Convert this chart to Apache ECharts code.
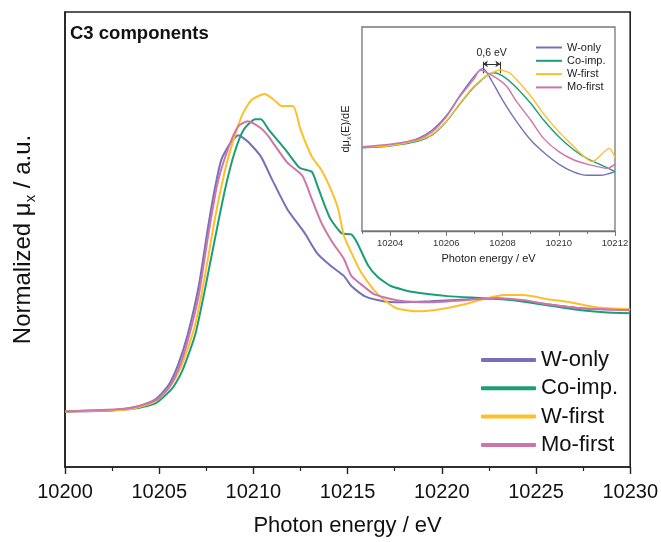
<!DOCTYPE html>
<html>
<head>
<meta charset="utf-8">
<script src="https://cdn.jsdelivr.net/npm/echarts@6/dist/echarts.min.js"></script>
<style>html,body{margin:0;padding:0;background:#fff}#c{width:661px;height:542px}</style>
</head>
<body>
<div id="c"></div>
<script>
// ---- Main panel data (normalized mu_x vs photon energy, eV) ----
const seriesNames = ['W-only', 'Co-imp.', 'W-first', 'Mo-first'];
const seriesColors = ['#7570b8', '#1b9e77', '#fdbf2a', '#cf74ab'];

const wOnlyE  = [10200,10202.5,10203.9,10204.8,10205.5,10206.0,10206.5,10207.1,10207.6,10207.95,10208.3,10208.8,10209.2,10209.7,10210.4,10211.0,10211.8,10212.7,10213.4,10214.1,10214.8,10215.2,10215.9,10216.9,10217.8,10219.4,10221.5,10222.9,10224.0,10225.6,10227.4,10229.1,10230];
const wOnlyMu = [0.00,0.01,0.05,0.12,0.26,0.46,0.75,1.24,1.83,2.20,2.49,2.66,2.73,2.67,2.52,2.29,2.00,1.77,1.56,1.44,1.34,1.24,1.14,1.09,1.08,1.09,1.11,1.12,1.10,1.06,1.02,1.01,1.01];

const coImpE  = [10200,10203.4,10204.8,10205.7,10206.2,10206.9,10207.4,10207.95,10208.5,10209.0,10209.5,10210.1,10210.4,10210.8,10211.7,10212.45,10213.1,10213.4,10213.8,10214.1,10214.7,10215.2,10215.5,10216.1,10216.6,10217.3,10218.5,10220.3,10222.1,10223.8,10225.6,10227.4,10228.6,10230];
const coImpMu = [0.00,0.02,0.08,0.23,0.39,0.75,1.18,1.70,2.20,2.56,2.79,2.89,2.89,2.79,2.59,2.41,2.37,2.23,2.03,1.90,1.76,1.75,1.67,1.44,1.33,1.24,1.18,1.14,1.12,1.10,1.05,1.00,0.98,0.97];

const wFirstE  = [10200,10203.4,10204.8,10205.7,10206.2,10206.9,10207.4,10207.95,10208.5,10209.0,10209.45,10209.9,10210.6,10211.1,10211.5,10212.1,10212.5,10213.1,10213.6,10214.1,10214.5,10214.8,10215.2,10215.7,10216.4,10216.9,10217.6,10218.7,10219.9,10221.2,10222.2,10223.3,10224.35,10225.6,10226.8,10228.2,10230];
const wFirstMu = [0.00,0.02,0.10,0.28,0.46,0.85,1.31,1.90,2.39,2.72,2.95,3.08,3.14,3.08,3.02,3.02,2.79,2.52,2.39,2.20,2.00,1.74,1.57,1.38,1.20,1.11,1.02,0.99,1.01,1.06,1.11,1.15,1.15,1.11,1.08,1.03,1.01];

const moFirstE  = [10200,10203.4,10204.8,10205.5,10206.0,10206.5,10207.1,10207.6,10208.1,10208.7,10209.2,10209.7,10210.4,10210.8,10211.1,10211.8,10212.6,10213.1,10213.6,10214.2,10214.8,10215.2,10215.9,10216.4,10217.6,10219.4,10221.2,10222.9,10224.4,10225.6,10227.4,10230];
const moFirstMu = [0.00,0.03,0.11,0.23,0.41,0.69,1.15,1.74,2.26,2.62,2.82,2.87,2.80,2.72,2.64,2.46,2.33,2.10,1.87,1.67,1.51,1.34,1.23,1.16,1.10,1.08,1.10,1.12,1.10,1.06,1.02,1.00];

// ---- Inset data (first derivative, arbitrary units) ----
const wOnlyDE = [10203,10203.5,10204,10204.5,10205,10205.5,10206,10206.5,10207,10207.3,10207.6,10208,10208.5,10209,10209.5,10210,10210.5,10211,10211.5,10212];
const wOnlyD  = [0.410,0.413,0.422,0.433,0.454,0.495,0.565,0.667,0.760,0.797,0.740,0.642,0.536,0.446,0.381,0.328,0.291,0.273,0.273,0.291];

const coImpDE = [10203,10204,10205,10205.5,10206,10206.5,10207,10207.5,10207.7,10208,10208.4,10209,10209.46,10210,10210.54,10211,10211.5,10212];
const coImpD  = [0.408,0.417,0.441,0.471,0.536,0.626,0.708,0.768,0.776,0.760,0.716,0.626,0.544,0.462,0.397,0.356,0.324,0.291];

const wFirstDE = [10203,10204,10205,10205.5,10206,10206.5,10207,10207.5,10207.92,10208.27,10209,10209.46,10210,10210.36,10210.77,10211.19,10211.79,10212];
const wFirstD  = [0.413,0.418,0.446,0.475,0.539,0.629,0.712,0.765,0.789,0.773,0.662,0.574,0.487,0.438,0.381,0.340,0.405,0.361];

const moFirstDE = [10203,10204,10205,10205.5,10206,10206.5,10207,10207.2,10207.8,10208.15,10208.5,10209,10209.46,10210,10210.54,10211,10211.5,10211.73,10212];
const moFirstD  = [0.413,0.425,0.451,0.487,0.560,0.662,0.748,0.789,0.748,0.708,0.634,0.544,0.454,0.389,0.348,0.328,0.312,0.307,0.328];

// ---- Ticks / annotation ----
const insetMajorTicks = [10204, 10206, 10208, 10210, 10212];
const insetMinorTicks = [10203, 10205, 10207, 10209, 10211];
const shiftX = [10207.3, 10207.92];     // peak positions bracketed
const shiftBarY = [0.773, 0.830];
const shiftArrowY = 0.819;
const shiftLabelY = 0.872;
const shiftLabel = '0,6 eV';

const zip = (a, b) => a.map((v, i) => [v, b[i]]);
const mainData = [zip(wOnlyE, wOnlyMu), zip(coImpE, coImpMu), zip(wFirstE, wFirstMu), zip(moFirstE, moFirstMu)];
const insetData = [zip(wOnlyDE, wOnlyD), zip(coImpDE, coImpD), zip(wFirstDE, wFirstD), zip(moFirstDE, moFirstD)];

const FONT = '"Liberation Sans", Arial, sans-serif';
const plain = v => String(v);
const chart = echarts.init(document.getElementById('c'), null, {renderer: 'canvas'});

const series = [];
seriesNames.forEach((n, i) => {
  series.push({
    name: n, type: 'line', xAxisIndex: 0, yAxisIndex: 0,
    data: mainData[i], showSymbol: false, smooth: 0.2,
    lineStyle: {color: seriesColors[i], width: 2}, itemStyle: {color: seriesColors[i]},
    z: 2, animation: false
  });
});
seriesNames.forEach((n, i) => {
  const s = {
    name: n, type: 'line', xAxisIndex: 1, yAxisIndex: 1,
    data: insetData[i], showSymbol: false, smooth: 0.25,
    lineStyle: {color: seriesColors[i], width: 1.4}, itemStyle: {color: seriesColors[i]},
    z: 10, animation: false
  };
  if (i === 0) {
    s.markLine = {
      silent: true, animation: false,
      symbol: ['none', 'none'],
      lineStyle: {color: '#333', width: 1, type: 'solid'},
      label: {show: false},
      data: [
        [{coord: [shiftX[0], shiftBarY[0]]}, {coord: [shiftX[0], shiftBarY[1]]}],
        [{coord: [shiftX[1], shiftBarY[0]]}, {coord: [shiftX[1], shiftBarY[1]]}],
        [{coord: [shiftX[0], shiftArrowY], symbol: 'arrow', symbolSize: [5, 5]},
         {coord: [shiftX[1], shiftArrowY], symbol: 'arrow', symbolSize: [5, 5]}]
      ]
    };
    s.markPoint = {
      silent: true, animation: false, symbol: 'circle', symbolSize: 0,
      label: {show: true, formatter: shiftLabel, fontSize: 10.5, color: '#222', fontFamily: FONT, position: 'inside'},
      data: [{coord: [(shiftX[0] + shiftX[1]) / 2, shiftLabelY]}]
    };
  }
  series.push(s);
});

const option = {
  animation: false,
  backgroundColor: '#fff',
  title: {
    text: 'C3 components', left: 70, top: 24, padding: 0,
    textStyle: {fontFamily: FONT, fontSize: 18.5, fontWeight: 'bold', color: '#111'}
  },
  legend: [
    {
      data: seriesNames, orient: 'vertical', left: 476, top: 344,
      icon: 'roundRect', itemWidth: 55, itemHeight: 4, itemGap: 6.3,
      textStyle: {fontFamily: FONT, fontSize: 22, lineHeight: 22, color: '#111'},
      itemStyle: {borderWidth: 0}, selectedMode: false
    },
    {
      data: seriesNames, orient: 'vertical', left: 531, top: 37,
      icon: 'rect', itemWidth: 26, itemHeight: 2, itemGap: 2.3,
      textStyle: {fontFamily: FONT, fontSize: 11, lineHeight: 11, color: '#222'},
      itemStyle: {borderWidth: 0}, selectedMode: false, z: 20
    }
  ],
  grid: [
    {left: 63, right: 30, top: 12, bottom: 73, show: true, borderColor: '#222', borderWidth: 1.6, backgroundColor: 'transparent'},
    {left: 362, right: 46, top: 27, bottom: 311, show: true, borderColor: '#777', borderWidth: 1.3, backgroundColor: '#fff', z: 5}
  ],
  xAxis: [
    {
      type: 'value', gridIndex: 0, min: 10200, max: 10230, interval: 5, position: 'bottom',
      name: 'Photon energy / eV', nameLocation: 'middle', nameGap: 48,
      nameTextStyle: {fontFamily: FONT, fontSize: 22, color: '#111'},
      axisLine: {show: true, onZero: false, lineStyle: {color: '#222', width: 1.6}},
      axisTick: {show: true, inside: false, length: 7, lineStyle: {color: '#222', width: 1.4}},
      minorTick: {show: true, splitNumber: 2, length: 4, lineStyle: {color: '#222', width: 1.2}},
      axisLabel: {fontFamily: FONT, fontSize: 20, color: '#111', margin: 15, formatter: plain},
      splitLine: {show: false}
    },
    {
      type: 'value', gridIndex: 1, min: 10203, max: 10212, interval: 1, position: 'bottom',
      name: 'Photon energy / eV', nameLocation: 'middle', nameGap: 22,
      nameTextStyle: {fontFamily: FONT, fontSize: 11, color: '#222'},
      axisLine: {show: true, onZero: false, lineStyle: {color: '#777', width: 1.3}},
      axisTick: {show: true, inside: false, length: 5, customValues: insetMajorTicks, lineStyle: {color: '#777', width: 1}},
      axisLabel: {fontFamily: FONT, fontSize: 9.5, color: '#333', margin: 7, customValues: insetMajorTicks, formatter: plain},
      splitLine: {show: false}
    },
    {
      type: 'value', gridIndex: 1, min: 10203, max: 10212, interval: 1, position: 'bottom', offset: 0,
      axisLine: {show: false, onZero: false},
      axisTick: {show: true, inside: false, length: 3, customValues: insetMinorTicks, lineStyle: {color: '#777', width: 1}},
      axisLabel: {show: false},
      splitLine: {show: false}
    }
  ],
  yAxis: [
    {
      type: 'value', gridIndex: 0, min: -0.55, max: 3.95,
      name: 'Normalized μ{sub|x} / a.u.', nameLocation: 'middle', nameGap: 27,
      nameTextStyle: {
        fontFamily: FONT, fontSize: 24, color: '#111', lineHeight: 30,
        rich: {sub: {fontFamily: FONT, fontSize: 15, color: '#111', lineHeight: 30, verticalAlign: 'bottom', padding: [12, 0, 0, 0]}}
      },
      axisLine: {show: true, onZero: false, lineStyle: {color: '#222', width: 1.6}},
      axisTick: {show: false}, axisLabel: {show: false}, splitLine: {show: false}
    },
    {
      type: 'value', gridIndex: 1, min: 0, max: 1,
      name: 'dμ{sub|x}(E)/dE', nameLocation: 'middle', nameGap: 9,
      nameTextStyle: {
        fontFamily: FONT, fontSize: 11, color: '#222', lineHeight: 14,
        rich: {sub: {fontFamily: FONT, fontSize: 7, color: '#222', lineHeight: 14, verticalAlign: 'bottom', padding: [5, 0, 0, 0]}}
      },
      axisLine: {show: true, onZero: false, lineStyle: {color: '#777', width: 1.3}},
      axisTick: {show: false}, axisLabel: {show: false}, splitLine: {show: false}
    }
  ],
  series: series
};
chart.setOption(option);
</script>
</body>
</html>
